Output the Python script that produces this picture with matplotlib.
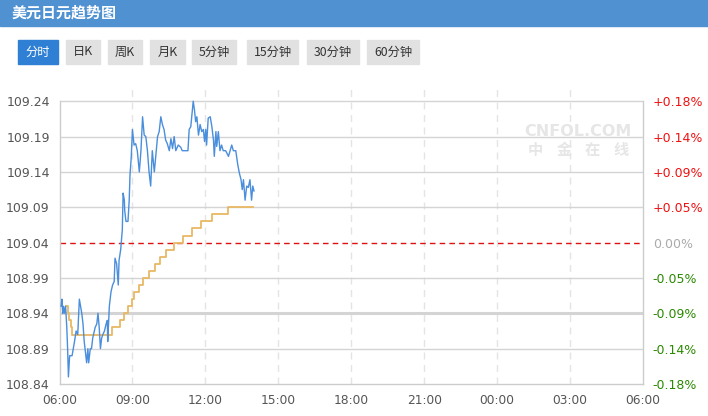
import matplotlib
matplotlib.use("Agg")
import matplotlib.pyplot as plt
from matplotlib.patches import Rectangle

# ------------------------------------------------------------
# Data (minutes since 06:00, USD/JPY)
# ------------------------------------------------------------

price_min = [4, 6, 8, 10, 12, 15, 18, 20, 22, 25, 31, 37, 41, 45, 49, 52, 55, 58,
             61, 64, 67, 70, 72, 74, 76, 79, 82, 88, 92, 95, 98, 101, 104, 107,
             111, 115, 118, 119, 123, 127, 131, 135, 137, 141, 145, 147, 151, 155,
             157, 160, 161, 164, 169, 172, 174, 177, 180, 184, 188, 192, 197, 201,
             205, 209, 213, 217, 221, 225, 229, 234, 238, 242, 246, 250, 254, 258,
             262, 266, 271, 275, 279, 283, 287, 293, 299, 303, 310, 317, 320, 324,
             328, 330, 333, 336, 339, 343, 347, 351, 355, 358, 361, 363, 367, 372,
             376, 380, 382, 386, 388, 392, 396, 400, 404, 410, 417, 421, 425, 429,
             435, 440, 444, 448, 451, 454, 458, 462, 466, 470, 474, 477, 480]
price = [108.95, 108.96, 108.94, 108.95, 108.94, 108.95, 108.92, 108.89, 108.85,
         108.88, 108.88, 108.90, 108.915, 108.91, 108.96, 108.95, 108.94, 108.925,
         108.90, 108.885, 108.87, 108.89, 108.87, 108.88, 108.89, 108.89, 108.905,
         108.92, 108.925, 108.94, 108.92, 108.89, 108.905, 108.91, 108.915, 108.925,
         108.93, 108.90, 108.95, 108.97, 108.98, 108.985, 109.018, 109.01, 108.98,
         109.015, 109.03, 109.058, 109.11, 109.10, 109.085, 109.07, 109.07, 109.10,
         109.136, 109.16, 109.20, 109.178, 109.18, 109.17, 109.14, 109.17, 109.218,
         109.192, 109.19, 109.17, 109.14, 109.12, 109.17, 109.14, 109.165, 109.19,
         109.197, 109.218, 109.207, 109.20, 109.185, 109.18, 109.17, 109.187,
         109.173, 109.19, 109.17, 109.178, 109.175, 109.17, 109.17, 109.17, 109.20,
         109.204, 109.228, 109.24, 109.228, 109.211, 109.218, 109.192, 109.207,
         109.197, 109.20, 109.183, 109.20, 109.178, 109.216, 109.218, 109.204,
         109.185, 109.162, 109.197, 109.176, 109.197, 109.17, 109.178, 109.17,
         109.17, 109.162, 109.17, 109.178, 109.17, 109.17, 109.15, 109.138, 109.129,
         109.115, 109.129, 109.10, 109.12, 109.118, 109.129, 109.10, 109.12, 109.113]

avg_min = [16, 20, 24, 28, 31, 130, 150, 158, 169, 178, 185, 195, 206, 220, 235,
           248, 264, 283, 306, 328, 349, 377, 417, 478]
avg = [108.95, 108.94, 108.93, 108.92, 108.91, 108.92, 108.93, 108.94, 108.95,
       108.96, 108.97, 108.98, 108.99, 109.00, 109.01, 109.02, 109.03, 109.04,
       109.05, 109.06, 109.07, 109.08, 109.09, 109.09]

prev_close = 109.04
y_ticks = [108.84, 108.89, 108.94, 108.99, 109.04, 109.09, 109.14, 109.19, 109.24]
pct_labels = ["-0.18%", "-0.14%", "-0.09%", "-0.05%", "0.00%",
              "+0.05%", "+0.09%", "+0.14%", "+0.18%"]
x_ticks = [0, 180, 360, 540, 720, 900, 1080, 1260, 1440]
x_labels = ["06:00", "09:00", "12:00", "15:00", "18:00", "21:00", "00:00", "03:00", "06:00"]

title = "美元日元趋势图"
buttons = ["分时", "日K", "周K", "月K", "5分钟", "15分钟", "30分钟", "60分钟"]

plt.rcParams['font.family'] = ['DejaVu Sans']
CJK = ['Noto Sans CJK SC', 'DejaVu Sans']

W, H = 708, 416
fig = plt.figure(figsize=(W / 100, H / 100), dpi=100)

# ------------------------------------------------------------
# Header and buttons (pixel coordinates)
# ------------------------------------------------------------

def px(x, y):
    return x / W, 1 - y / H

fig.patches.append(Rectangle((0, 1 - 26 / H), 1, 26 / H, transform=fig.transFigure,
                             color="#4f91d1", zorder=0))
fig.text(*px(12, 13), title, color="white", fontsize=10.8, fontweight="bold",
         family=CJK, va="center", ha="left")

btn_x = [(18, 58), (66, 100), (108, 142), (150, 185), (192, 236), (247, 298),
         (307, 359), (367, 419)]
for i, (label, (x0, x1)) in enumerate(zip(buttons, btn_x)):
    sel = i == 0
    fig.patches.append(Rectangle(px(x0, 64), (x1 - x0) / W, 24 / H,
                                 transform=fig.transFigure,
                                 color="#2f7fd4" if sel else "#e1e1e1", zorder=0))
    fig.text(*px((x0 + x1) / 2, 52), label, color="white" if sel else "#333333",
             fontsize=8.8, family=CJK, ha="center", va="center")

# ------------------------------------------------------------
# Chart
# ------------------------------------------------------------

x_left, x_right, y_top, y_bot = 59.5, 643, 89, 384
ax = fig.add_axes([x_left / W, 1 - y_bot / H, (x_right - x_left) / W, (y_bot - y_top) / H])
ylo = 108.84
yhi = ylo + (y_bot - y_top) / 707.0
ax.set_xlim(0, 1440)
ax.set_ylim(ylo, yhi)

for t in x_ticks[1:-1]:
    ax.axvline(t, color="#e4e4e4", linewidth=1, linestyle=(0, (5, 4)), zorder=1)
for v in y_ticks[1:]:
    if v == prev_close:
        continue
    lw = 2.2 if abs(v - 108.94) < 1e-6 else 1.0
    ax.axhline(v, color="#d4d4d4", linewidth=lw, zorder=1)
ax.axhline(prev_close, color="#e01010", linewidth=1, linestyle=(0, (4, 3)), zorder=2)

ax.plot(avg_min, avg, drawstyle="steps-post", color="#e8b964", linewidth=1.3, zorder=3)
ax.plot(price_min, price, color="#4a8edc", linewidth=1.0, zorder=4)

for s in ["top"]:
    ax.spines[s].set_visible(False)
for s in ["left", "right", "bottom"]:
    ax.spines[s].set_color("#cccccc")
    ax.spines[s].set_linewidth(1)
ax.spines["left"].set_bounds(ylo, 109.24)
ax.spines["right"].set_bounds(ylo, 109.24)

ax.set_yticks(y_ticks)
ax.set_yticklabels([f"{v:.2f}" for v in y_ticks])
ax.set_xticks(x_ticks)
ax.set_xticklabels(x_labels)
ax.tick_params(axis="y", length=0, pad=7, labelsize=9, labelcolor="#555555")
ax.tick_params(axis="x", length=0, pad=7, labelsize=8.8, labelcolor="#555555")

ax2 = ax.twinx()
ax2.set_ylim(ylo, yhi)
ax2.set_yticks(y_ticks)
ax2.set_yticklabels(pct_labels)
ax2.tick_params(axis="y", length=0, pad=7, labelsize=9)
for lab, v in zip(ax2.get_yticklabels(), y_ticks):
    if v > prev_close:
        lab.set_color("#ee1111")
    elif v < prev_close:
        lab.set_color("#2a8a00")
    else:
        lab.set_color("#aaaaaa")
for s in ax2.spines.values():
    s.set_visible(False)

# watermark
fig.text(*px(578, 131), "CNFOL.COM", color="#e6e6e6", fontsize=11.5,
         fontweight="bold", ha="center", va="center")
for ch, cx in zip("中金在线", [535, 564, 592, 621]):
    fig.text(*px(cx, 150), ch, color="#e6e6e6", fontsize=11, fontweight="bold",
             family=CJK, ha="center", va="center")

fig.savefig("out.png", dpi=100)
